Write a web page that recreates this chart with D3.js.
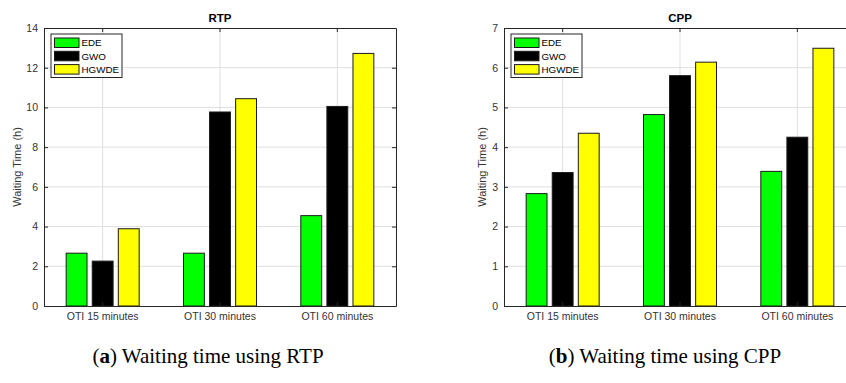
<!DOCTYPE html>
<html>
<head>
<meta charset="utf-8">
<script src="https://cdn.jsdelivr.net/npm/d3@7"></script>
<style>
  body { margin: 0; background: #fff; }
  svg { display: block; font-family: "Liberation Sans", Arial, sans-serif; }
</style>
</head>
<body>
<div id="chart"></div>
<script>
// categories and series
const categories = ["OTI 15 minutes", "OTI 30 minutes", "OTI 60 minutes"];
const seriesNames = ["EDE", "GWO", "HGWDE"];
const seriesColors = ["#00ff00", "#000000", "#ffff00"];

// waiting time (h), one array per series, in category order
const rtpEDE = [2.66, 2.66, 4.55];
const rtpGWO = [2.26, 9.77, 10.05];
const rtpHGWDE = [3.89, 10.44, 12.72];

const cppEDE = [2.83, 4.82, 3.39];
const cppGWO = [3.36, 5.80, 4.25];
const cppHGWDE = [4.35, 6.14, 6.49];

const rtpTicks = [0, 2, 4, 6, 8, 10, 12, 14];
const cppTicks = [0, 1, 2, 3, 4, 5, 6, 7];

const W = 846, H = 383;
const svg = d3.select("#chart").append("svg")
  .attr("width", W).attr("height", H);

const axisColor = "#262626";
const gridColor = "#dfdfdf";
const plotTop = 28, plotBottom = 306, plotW = 352;

function drawPanel(opt) {
  const g = svg.append("g").attr("transform", "translate(" + opt.left + ",0)");

  const x = d3.scaleBand().domain(categories).range([0, plotW]).padding(0);
  const bw = x.bandwidth();
  // MATLAB grouped bars: group spans 2/3 of a slot, bars 0.8 of their sub-slot
  const xs = d3.scaleBand().domain(seriesNames)
    .range([-bw / 3, bw / 3]).paddingInner(0.2).paddingOuter(0.1);
  const y = d3.scaleLinear().domain([0, opt.ticks[opt.ticks.length - 1]]).range([plotBottom, plotTop]);

  // grid
  g.append("g").selectAll("line").data(opt.ticks.slice(1, -1)).enter().append("line")
    .attr("x1", 0).attr("x2", plotW)
    .attr("y1", d => y(d)).attr("y2", d => y(d))
    .attr("stroke", gridColor).attr("stroke-width", 1);
  g.append("g").selectAll("line").data(categories).enter().append("line")
    .attr("x1", d => x(d) + bw / 2).attr("x2", d => x(d) + bw / 2)
    .attr("y1", plotTop).attr("y2", plotBottom)
    .attr("stroke", gridColor).attr("stroke-width", 1);

  // bars
  const rows = [];
  seriesNames.forEach((s, si) => {
    opt.values[si].forEach((v, ci) => rows.push({ s: s, si: si, c: categories[ci], v: v }));
  });
  g.append("g").selectAll("rect").data(rows).enter().append("rect")
    .attr("x", d => x(d.c) + bw / 2 + xs(d.s))
    .attr("width", xs.bandwidth())
    .attr("y", d => y(d.v))
    .attr("height", d => plotBottom - y(d.v))
    .attr("fill", d => seriesColors[d.si])
    .attr("stroke", "#1a1a1a").attr("stroke-width", 1);

  // axes, ticks inside like MATLAB
  const tickFont = a => a.selectAll("text")
    .attr("fill", "#333").style("font-size", "10.5px")
    .style("font-family", '"Liberation Sans", Arial, sans-serif');
  const axisStroke = a => {
    a.selectAll("line").attr("stroke", axisColor);
    a.select(".domain").attr("stroke", axisColor);
  };

  g.append("g").attr("transform", "translate(0," + plotBottom + ")")
    .call(d3.axisBottom(x).tickSizeInner(-4).tickSizeOuter(0).tickPadding(7))
    .call(axisStroke).call(tickFont);
  g.append("g")
    .call(d3.axisLeft(y).tickValues(opt.ticks).tickFormat(d3.format("d"))
      .tickSizeInner(-4).tickSizeOuter(0).tickPadding(6))
    .call(axisStroke).call(tickFont);
  g.append("g").attr("transform", "translate(0," + plotTop + ")")
    .call(d3.axisTop(x).tickSizeInner(-4).tickSizeOuter(0).tickFormat(""))
    .call(axisStroke);
  g.append("g").attr("transform", "translate(" + plotW + ",0)")
    .call(d3.axisRight(y).tickValues(opt.ticks).tickSizeInner(-4).tickSizeOuter(0).tickFormat(""))
    .call(axisStroke);

  // title and y label
  g.append("text").attr("x", plotW / 2).attr("y", 22)
    .attr("text-anchor", "middle").attr("font-weight", "bold")
    .attr("font-size", "11.5px").attr("fill", "#000").text(opt.title);
  g.append("text")
    .attr("transform", "translate(" + (-opt.ylabGap) + "," + ((plotTop + plotBottom) / 2) + ") rotate(-90)")
    .attr("text-anchor", "middle").attr("dy", "0.35em")
    .attr("font-size", "11px").attr("fill", "#333").text("Waiting Time (h)");

  // legend
  const lg = g.append("g").attr("transform", "translate(7,34)");
  lg.append("rect").attr("width", 71).attr("height", 43.5)
    .attr("fill", "#fff").attr("stroke", axisColor).attr("stroke-width", 1);
  seriesNames.forEach((s, i) => {
    lg.append("rect").attr("x", 3.5).attr("y", 4 + i * 13.3)
      .attr("width", 24.5).attr("height", 9.5)
      .attr("fill", seriesColors[i]).attr("stroke", "#1a1a1a").attr("stroke-width", 1);
    lg.append("text").attr("x", 30.5).attr("y", 4 + i * 13.3 + 4.9).attr("dy", "0.35em")
      .attr("font-size", "9.8px").attr("fill", "#000").text(s);
  });

  // caption
  const cap = svg.append("text").attr("x", opt.capX).attr("y", 363)
    .attr("text-anchor", "middle")
    .style("font-family", '"Liberation Serif", "Times New Roman", serif')
    .attr("font-size", "21px").attr("fill", "#000");
  cap.append("tspan").text("(");
  cap.append("tspan").attr("font-weight", "bold").text(opt.letter);
  cap.append("tspan").text(") " + opt.caption);
}

drawPanel({
  left: 44, title: "RTP", ticks: rtpTicks,
  values: [rtpEDE, rtpGWO, rtpHGWDE], ylabGap: 27,
  letter: "a", caption: "Waiting time using RTP", capX: 208
});
drawPanel({
  left: 504, title: "CPP", ticks: cppTicks,
  values: [cppEDE, cppGWO, cppHGWDE], ylabGap: 22,
  letter: "b", caption: "Waiting time using CPP", capX: 665
});
</script>
</body>
</html>
